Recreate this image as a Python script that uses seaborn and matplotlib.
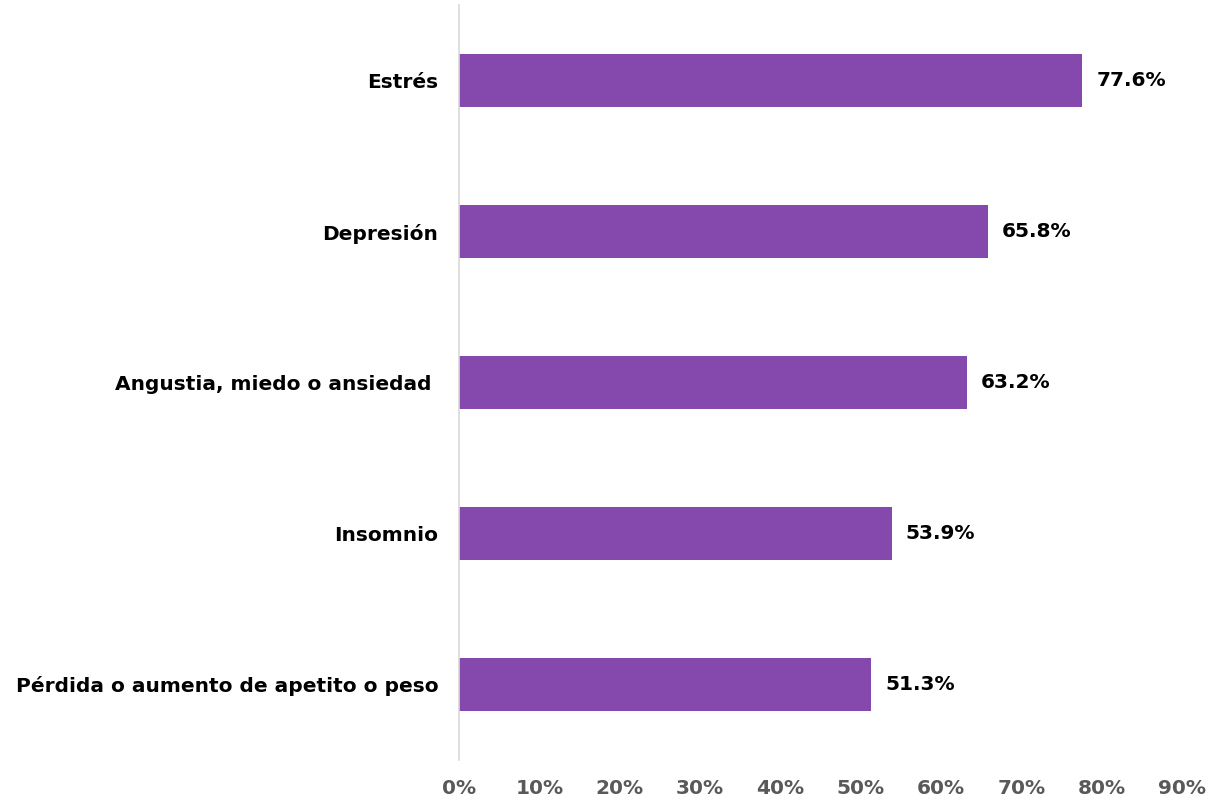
import matplotlib
matplotlib.use("Agg")
import matplotlib.pyplot as plt
import seaborn as sns
import pandas as pd

categorias = ["Estrés", "Depresión", "Angustia, miedo o ansiedad ", "Insomnio",
              "Pérdida o aumento de apetito o peso"]
porcentajes = [77.6, 65.8, 63.2, 53.9, 51.3]
ticks_x = [0, 10, 20, 30, 40, 50, 60, 70, 80, 90]
etiquetas_x = [f"{t}%" for t in ticks_x]

df = pd.DataFrame({"categoria": categorias, "porcentaje": porcentajes})

sns.set_theme(style="white")
plt.rcParams["font.family"] = ["DejaVu Sans"]

fig = plt.figure(figsize=(12.07, 8.02), dpi=100)
ax = fig.add_axes([459 / 1207, 42 / 802, (1182 - 459) / 1207, (760 - 5) / 802])

sns.barplot(data=df, x="porcentaje", y="categoria", orient="h",
            color="#8549AD", saturation=1, width=0.355, linewidth=0, ax=ax)

ax.set_xlim(0, 90)
ax.set_ylim(4.5, -0.5)
ax.set_xticks(ticks_x)
ax.set_xticklabels(etiquetas_x, fontsize=14.5, fontweight="bold", color="#595959")
ax.set_yticks(range(len(categorias)))
ax.set_yticklabels(categorias, fontsize=14.5, fontweight="bold", color="black")
ax.tick_params(axis="x", length=0, pad=14)
ax.tick_params(axis="y", length=0, pad=15)
ax.set_xlabel("")
ax.set_ylabel("")

for s in ["top", "right", "bottom"]:
    ax.spines[s].set_visible(False)
ax.spines["left"].set_color("#d9d9d9")
ax.spines["left"].set_linewidth(1.2)

for i, v in enumerate(porcentajes):
    ax.annotate(f"{v}%", xy=(v, i), xytext=(10, 0), textcoords="offset points",
                va="center", ha="left", fontsize=14.5, fontweight="bold", color="black")

fig.savefig("out.png", dpi=100)
